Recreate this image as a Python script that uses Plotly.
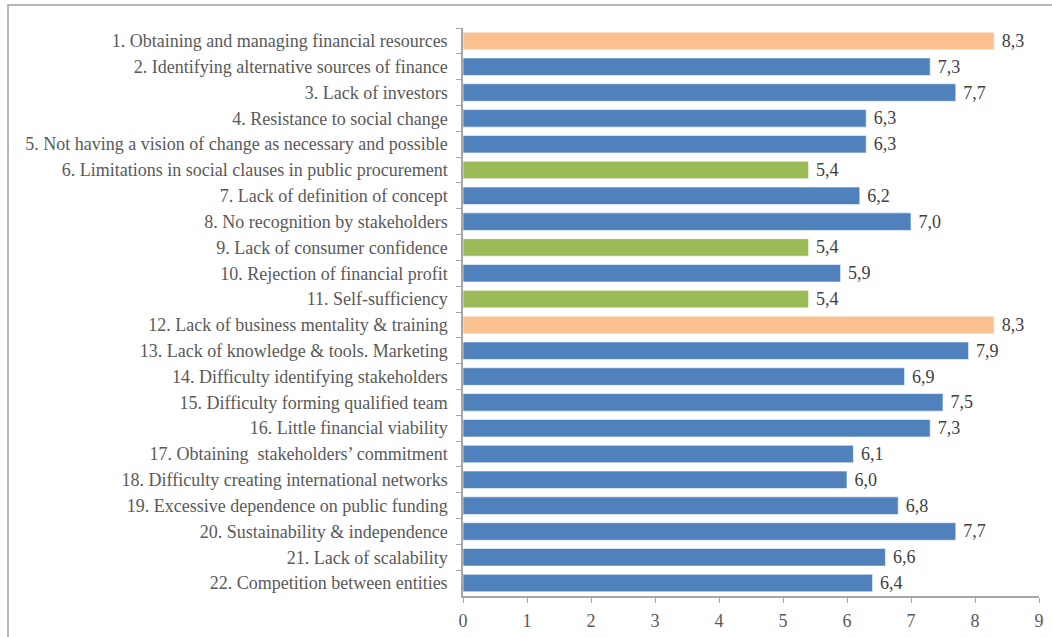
import plotly.graph_objects as go

categories = [
    "1. Obtaining and managing financial resources",
    "2. Identifying alternative sources of finance",
    "3. Lack of investors",
    "4. Resistance to social change",
    "5. Not having a vision of change as necessary and possible",
    "6. Limitations in social clauses in public procurement",
    "7. Lack of definition of concept",
    "8. No recognition by stakeholders",
    "9. Lack of consumer confidence",
    "10. Rejection of financial profit",
    "11. Self-sufficiency",
    "12. Lack of business mentality & training",
    "13. Lack of knowledge & tools. Marketing",
    "14. Difficulty identifying stakeholders",
    "15. Difficulty forming qualified team",
    "16. Little financial viability",
    "17. Obtaining  stakeholders\u2019 commitment",
    "18. Difficulty creating international networks",
    "19. Excessive dependence on public funding",
    "20. Sustainability & independence",
    "21. Lack of scalability",
    "22. Competition between entities",
]
values = [8.3, 7.3, 7.7, 6.3, 6.3, 5.4, 6.2, 7.0, 5.4, 5.9, 5.4,
          8.3, 7.9, 6.9, 7.5, 7.3, 6.1, 6.0, 6.8, 7.7, 6.6, 6.4]
groups = ["high", "mid", "mid", "mid", "mid", "low", "mid", "mid", "low", "mid", "low",
          "high", "mid", "mid", "mid", "mid", "mid", "mid", "mid", "mid", "mid", "mid"]
group_colors = {"high": "#FAC090", "mid": "#4F81BD", "low": "#9BBB59"}
x_ticks = list(range(0, 10))

colors = [group_colors[g] for g in groups]
labels = [" " + f"{v:.1f}".replace(".", ",") for v in values]

font_family = "Liberation Serif"
text_color = "#595959"
axis_color = "#A6A6A6"
fsize = 18

fig = go.Figure(
    go.Bar(
        x=values,
        y=categories,
        orientation="h",
        marker=dict(color=colors, line=dict(color="rgba(255,255,255,0.6)", width=1)),
        width=0.68,
        text=labels,
        textposition="outside",
        constraintext="none",
        cliponaxis=False,
        textfont=dict(family=font_family, size=fsize, color="#404040"),
        hoverinfo="x+y",
    )
)

fig.update_layout(
    width=1052,
    height=637,
    margin=dict(l=463, r=13, t=28, b=41),
    paper_bgcolor="white",
    plot_bgcolor="white",
    showlegend=False,
    font=dict(family=font_family, size=fsize, color=text_color),
)

fig.update_xaxes(
    range=[0, 9],
    tickvals=x_ticks,
    showgrid=False,
    zeroline=False,
    showline=True,
    linecolor=axis_color,
    linewidth=1.5,
    ticks="outside",
    ticklen=5,
    tickcolor=axis_color,
    ticklabelstandoff=3,
    automargin=False,
    tickfont=dict(family=font_family, size=fsize, color=text_color),
)

fig.update_yaxes(
    categoryorder="array",
    categoryarray=categories,
    autorange="reversed",
    showgrid=False,
    showline=True,
    linecolor=axis_color,
    linewidth=1.5,
    ticks="outside",
    ticklen=5,
    tickcolor=axis_color,
    tickson="boundaries",
    ticklabelstandoff=10,
    automargin=False,
    tickfont=dict(family=font_family, size=fsize, color=text_color),
)

# outer chart frame
fig.add_shape(
    type="rect", xref="paper", yref="paper",
    x0=(8 - 463) / 576, x1=1.2, y0=-0.3, y1=1 + (28 - 5) / 568,
    line=dict(color="#A0A0A0", width=1.5), fillcolor="rgba(0,0,0,0)", layer="below",
)

fig.write_html(
    "out.html",
    config={"displayModeBar": False},
    post_script="document.body.style.margin='0';document.body.style.overflow='hidden';",
)
